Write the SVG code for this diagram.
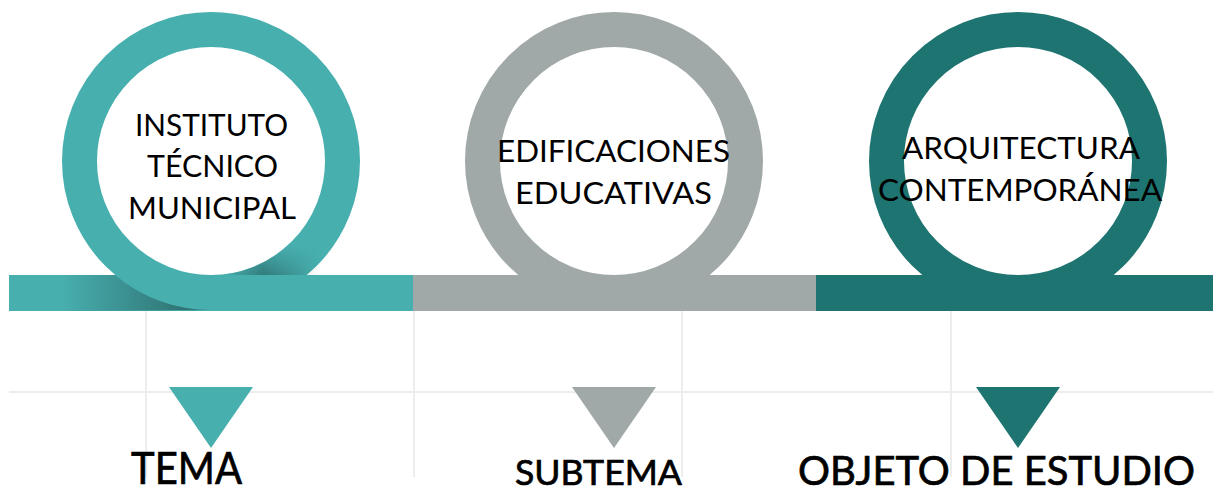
<svg xmlns="http://www.w3.org/2000/svg" width="1213" height="494" viewBox="0 0 1213 494">
  <style>
    .grid { stroke: #EDEDED; stroke-width: 2; fill: none; }
    .ring { fill: none; stroke-width: 35; }
    .t1 { fill: #48AFAF; } .s1 { stroke: #48AFAF; }
    .t2 { fill: #A0A9A8; } .s2 { stroke: #A0A9A8; }
    .t3 { fill: #1E7470; } .s3 { stroke: #1E7470; }
    .ringtext { font-family: Lato, "Liberation Sans", sans-serif; font-size: 30px; fill: #000; }
    .label { font-family: Lato, "Liberation Sans", sans-serif; fill: #000; stroke: #000; stroke-width: 0.7; }
  </style>
  <defs>
    <linearGradient id="shadowL" x1="60" y1="0" x2="190" y2="0" gradientUnits="userSpaceOnUse">
      <stop offset="0" stop-color="#000" stop-opacity="0"/>
      <stop offset="1" stop-color="#000" stop-opacity="0.35"/>
    </linearGradient>
    <linearGradient id="shadowR" x1="320" y1="0" x2="225" y2="0" gradientUnits="userSpaceOnUse">
      <stop offset="0" stop-color="#000" stop-opacity="0"/>
      <stop offset="0.6" stop-color="#000" stop-opacity="0.3"/>
      <stop offset="1" stop-color="#000" stop-opacity="0"/>
    </linearGradient>
    <linearGradient id="shadowV" x1="0" y1="245" x2="0" y2="275" gradientUnits="userSpaceOnUse">
      <stop offset="0" stop-color="#fff" stop-opacity="0"/>
      <stop offset="1" stop-color="#fff" stop-opacity="1"/>
    </linearGradient>
    <mask id="vmask">
      <rect x="200" y="240" width="140" height="40" fill="url(#shadowV)"/>
    </mask>
  </defs>

  <g id="grid">
    <line class="grid" x1="9" y1="392" x2="1213" y2="392"/>
    <line class="grid" x1="146" y1="311" x2="146" y2="477"/>
    <line class="grid" x1="414" y1="311" x2="414" y2="477"/>
    <line class="grid" x1="682" y1="311" x2="682" y2="477"/>
    <line class="grid" x1="951" y1="311" x2="951" y2="477"/>
  </g>

  <g id="node-tema">
    <circle class="ring s1" cx="211" cy="161" r="131.5"/>
    <rect class="t1" x="9" y="275" width="404" height="36"/>
    <path d="M60,275 L115,275 A149 149 0 0 0 211,310 L60,311 Z" fill="url(#shadowL)"/>
    <path d="M211,275 A114 114 0 0 0 300,232 A149 149 0 0 1 322,261 L330,275 Z" fill="url(#shadowR)" mask="url(#vmask)"/>
    <text class="ringtext" x="135" y="136" textLength="153" lengthAdjust="spacingAndGlyphs">INSTITUTO</text>
    <text class="ringtext" x="147" y="177" textLength="131" lengthAdjust="spacingAndGlyphs">TÉCNICO</text>
    <text class="ringtext" x="128" y="219" textLength="168" lengthAdjust="spacingAndGlyphs">MUNICIPAL</text>
  </g>

  <g id="node-subtema">
    <circle class="ring s2" cx="614" cy="161" r="131.5"/>
    <rect class="t2" x="413" y="275" width="403" height="36"/>
    <text class="ringtext" x="497" y="162" textLength="233" lengthAdjust="spacingAndGlyphs">EDIFICACIONES</text>
    <text class="ringtext" x="515" y="204" textLength="197" lengthAdjust="spacingAndGlyphs">EDUCATIVAS</text>
  </g>

  <g id="node-objeto">
    <circle class="ring s3" cx="1018" cy="161" r="131.5"/>
    <rect class="t3" x="816" y="275" width="397" height="36"/>
    <text class="ringtext" x="902" y="159" textLength="238" lengthAdjust="spacingAndGlyphs">ARQUITECTURA</text>
    <text class="ringtext" x="878" y="201" textLength="284" lengthAdjust="spacingAndGlyphs">CONTEMPORÁNEA</text>
  </g>

  <g id="connectors">
    <polygon class="t1" points="169,387 253,387 211,448"/>
    <polygon class="t2" points="572,387 656,387 614,448"/>
    <polygon class="t3" points="976,387 1060,387 1018,448"/>
  </g>

  <g id="label-tema">
    <text class="label" x="131" y="484" font-size="44" textLength="111" lengthAdjust="spacingAndGlyphs">TEMA</text>
  </g>
  <g id="label-subtema">
    <text class="label" x="515" y="485" font-size="35" textLength="167" lengthAdjust="spacingAndGlyphs">SUBTEMA</text>
  </g>
  <g id="label-objeto">
    <text class="label" x="798" y="485" font-size="40" textLength="397" lengthAdjust="spacingAndGlyphs">OBJETO DE ESTUDIO</text>
  </g>
</svg>
